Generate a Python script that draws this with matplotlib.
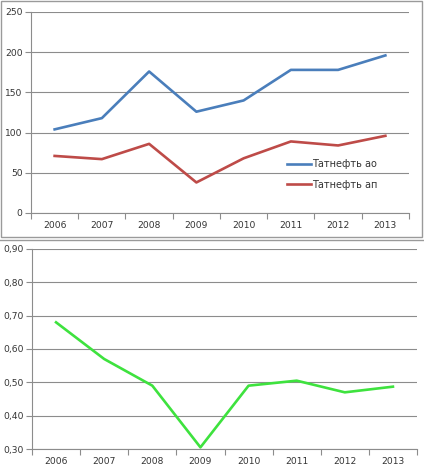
import numpy as np
import matplotlib.pyplot as plt
from matplotlib.patches import Rectangle
from matplotlib.lines import Line2D
from matplotlib.ticker import FuncFormatter

years = ['2006', '2007', '2008', '2009', '2010', '2011', '2012', '2013']
tatneft_ao = [104, 118, 176, 126, 140, 178, 178, 196]
tatneft_ap = [71, 67, 86, 38, 68, 89, 84, 96]
ratio = [0.68, 0.57, 0.49, 0.305, 0.49, 0.505, 0.47, 0.487]

W, H = 424, 476
fig = plt.figure(figsize=(W / 100, H / 100), dpi=100)
plt.rcParams['font.family'] = ['DejaVu Sans']

grid_c = '#8c8c8c'
text_c = '#333333'
fs = 6.6


def style(ax, ylo, yhi, step, fmt):
    x = np.arange(len(years))
    ax.set_xlim(-0.5, len(years) - 0.5)
    ax.set_ylim(ylo, yhi)
    ax.set_xticks(x)
    ax.set_xticklabels(years)
    ax.set_xticks(np.arange(-0.5, len(years)), minor=True)
    ax.tick_params(axis='x', which='major', length=0, pad=6, labelsize=fs, labelcolor=text_c)
    ax.tick_params(axis='x', which='minor', length=4, color=grid_c, width=0.8)
    ax.set_yticks(np.arange(ylo, yhi + step / 2, step))
    ax.yaxis.set_major_formatter(FuncFormatter(fmt))
    ax.tick_params(axis='y', length=4, color=grid_c, width=0.8, labelsize=fs, labelcolor=text_c, pad=2)
    ax.grid(axis='y', color=grid_c, linewidth=0.8)
    ax.set_axisbelow(True)
    for s in ['top', 'right']:
        ax.spines[s].set_visible(False)
    for s in ['left', 'bottom']:
        ax.spines[s].set_color(grid_c)
        ax.spines[s].set_linewidth(0.8)


# top chart
ax1 = fig.add_axes([31 / W, 1 - 213 / H, (409 - 31) / W, (213 - 12) / H])
x = np.arange(len(years))
ax1.plot(x, tatneft_ao, color='#4A7EBB', lw=1.9, label='Татнефть ао')
ax1.plot(x, tatneft_ap, color='#BE4B48', lw=1.9, label='Татнефть ап')
style(ax1, 0, 250, 50, lambda v, p: f'{v:.0f}')
ax1.legend(loc='upper left', bbox_to_anchor=(0.655, 0.31), frameon=False,
           fontsize=fs + 0.4, handlelength=2.4, handletextpad=0.1,
           labelspacing=1.05, labelcolor=text_c)

# bottom chart
ax2 = fig.add_axes([32 / W, 1 - 449 / H, (417 - 32) / W, (449 - 249) / H])
ax2.plot(x, ratio, color='#3EE23E', lw=1.9)
style(ax2, 0.3, 0.9, 0.1, lambda v, p: f'{v:.2f}'.replace('.', ','))

# chart frames
fig.patches.append(Rectangle((1 / W, 1 - 237 / H), 421 / W, 236 / H, transform=fig.transFigure,
                             fill=False, edgecolor='#9a9a9a', linewidth=1.0))
fig.lines.append(Line2D([0, 1], [1 - 239.5 / H] * 2, transform=fig.transFigure,
                        color='#9a9a9a', linewidth=1.0))

fig.savefig('out.png', dpi=100)
